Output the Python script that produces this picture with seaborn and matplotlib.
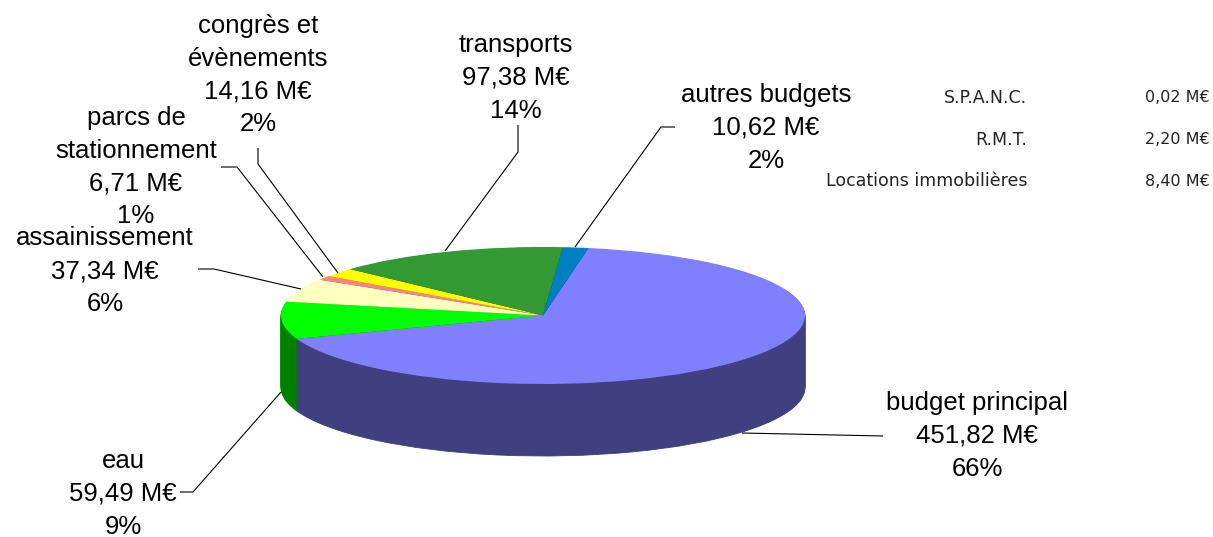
import matplotlib
matplotlib.use("Agg")
import matplotlib.pyplot as plt
import seaborn as sns

# Data
budgets = ["budget principal", "eau", "assainissement", "parcs de\nstationnement",
           "congrès et\névènements", "transports", "autres budgets"]
montants = [451.82, 59.49, 37.34, 6.71, 14.16, 97.38, 10.62]
montants_txt = ["451,82 M€", "59,49 M€", "37,34 M€", "6,71 M€", "14,16 M€", "97,38 M€", "10,62 M€"]
parts_txt = ["66%", "9%", "6%", "1%", "2%", "14%", "2%"]

autres_noms = ["S.P.A.N.C.", "R.M.T.", "Locations immobilières"]
autres_txt = ["0,02 M€", "2,20 M€", "8,40 M€"]

couleurs = ["#8080FF", "#00FF00", "#FFFFC0", "#FF8080", "#FFFF00", "#339933", "#0080C0"]
couleurs_cote = ["#404080", "#008000", "#808060", "#804040", "#808000", "#1A4D1A", "#004060"]

sns.set_theme(style="white")
plt.rcParams["font.family"] = ["Liberation Sans", "DejaVu Sans"]

W, H = 1213, 537
fig = plt.figure(figsize=(W / 100, H / 100), dpi=100, facecolor="white")

# Pie axes: squashed so the circle turns into an ellipse
cx, cy, rx, ry, depth = 543, 315.5, 262, 68.5, 72
ax = fig.add_axes([0, 0, 1, 1])

# side wall: stack of darker pies going down
for d in range(depth, 0, -1):
    wedges, _ = ax.pie(montants, colors=sns.color_palette(couleurs_cote), startangle=80,
                       counterclock=False, center=(0, -d / ry))
    for w in wedges:
        w.set_edgecolor(w.get_facecolor())
        w.set_linewidth(0.6)

# top face
ax.pie(montants, colors=sns.color_palette(couleurs), startangle=80, counterclock=False,
       center=(0, 0), wedgeprops={"linewidth": 0})

ax.set_aspect("auto")
ax.set_xlim(-cx / rx, (W - cx) / rx)
ax.set_ylim(-(H - cy) / ry, cy / ry)

# Overlay in pixel coordinates for labels and leader lines
ov = fig.add_axes([0, 0, 1, 1])
ov.set_xlim(0, W)
ov.set_ylim(H, 0)
ov.axis("off")
ov.patch.set_alpha(0)

label_pos = [(977, 436), (123, 494), (105, 271), (136, 167), (258, 75), (516, 78), (766, 128)]
for i in range(len(budgets)):
    ov.text(label_pos[i][0], label_pos[i][1],
            budgets[i] + "\n" + montants_txt[i] + "\n" + parts_txt[i],
            ha="center", va="center", fontsize=18.5, color="black", linespacing=1.45)

leaders = [
    ([742, 883], [433, 436]),
    ([180, 193, 281], [492, 492, 392]),
    ([198, 214, 301], [269, 269, 289]),
    ([221, 237, 323], [167, 167, 277]),
    ([258, 258, 338], [148, 164, 273]),
    ([518, 518, 445], [125, 152, 251]),
    ([675, 661, 575], [127, 127, 247]),
]
for xs, ys in leaders:
    ov.plot(xs, ys, color="black", lw=0.8, solid_capstyle="butt")

table_y = [98, 140, 181]
for i in range(len(autres_noms)):
    ov.text(1027, table_y[i], autres_noms[i], ha="right", va="center",
            fontsize=12.5, family="DejaVu Sans", color="#222222")
    ov.text(1210, table_y[i], autres_txt[i], ha="right", va="center",
            fontsize=11.5, family="DejaVu Sans", color="#222222")

fig.savefig("out.png", dpi=100)
